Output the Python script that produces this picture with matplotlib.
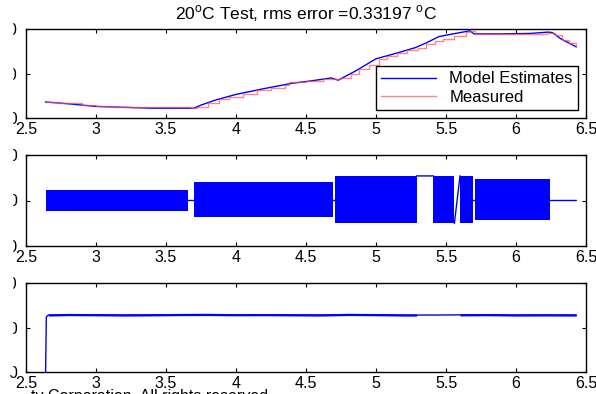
import matplotlib
matplotlib.use("Agg")
import matplotlib.pyplot as plt
import numpy as np
from matplotlib.patches import Rectangle

plt.rcParams['font.family'] = ['Liberation Sans', 'DejaVu Sans']
plt.rcParams['mathtext.fontset'] = 'custom'
plt.rcParams['mathtext.rm'] = 'Liberation Sans'

# top panel: model estimate vs measured temperature
t_model = [2.64, 2.80, 3.00, 3.20, 3.40, 3.60, 3.70, 3.75, 3.85, 4.00, 4.20, 4.40,
           4.55, 4.68, 4.73, 4.85, 5.00, 5.15, 5.28, 5.36, 5.45, 5.55, 5.62, 5.67,
           5.70, 5.90, 6.10, 6.23, 6.26, 6.32, 6.43]
v_model = [23.6, 23.2, 22.6, 22.4, 22.2, 22.2, 22.2, 22.9, 24.0, 25.3, 26.6, 27.8,
           28.4, 29.0, 28.5, 30.5, 33.3, 34.6, 35.8, 36.9, 38.3, 38.9, 39.3, 39.6,
           38.9, 38.9, 39.0, 39.3, 39.2, 37.8, 36.0]

t_meas = [2.64, 2.72, 2.90, 3.00, 3.12, 3.68, 3.72, 3.80, 3.88, 3.95, 4.05, 4.15,
          4.25, 4.35, 4.38, 4.50, 4.62, 4.70, 4.75, 4.82, 4.88, 4.95, 5.02, 5.08,
          5.15, 5.22, 5.30, 5.36, 5.42, 5.48, 5.56, 5.64, 5.68, 5.71, 6.05, 6.22,
          6.28, 6.33, 6.38, 6.43]
v_meas = [23.6, 23.3, 22.9, 22.6, 22.5, 22.2, 22.4, 23.4, 24.2, 24.8, 25.5, 26.2,
          26.7, 27.5, 28.0, 28.3, 28.8, 28.7, 29.0, 30.0, 31.0, 32.0, 33.2, 34.0,
          34.6, 35.2, 35.8, 36.6, 37.2, 37.8, 38.4, 39.4, 39.6, 38.8, 38.8, 39.1,
          38.6, 37.6, 36.8, 36.1]

# middle panel: switching bands (start, end, high, low)
band_start = [2.64, 3.70, 4.71, 5.41, 5.60, 5.71]
band_end = [3.66, 4.69, 5.29, 5.56, 5.69, 6.24]
band_hi = [12, 20, 27, 27, 27, 23.5]
band_lo = [-11, -18, -25, -25, -25, -21.5]
# connecting line between bands
t_link = [3.66, 3.70, np.nan, 4.69, 4.71, np.nan, 5.29, 5.41, np.nan,
          5.56, 5.60, np.nan, 5.69, 5.71, np.nan, 6.24, 6.43]
v_link = [0, 0, np.nan, 0, 0, np.nan, 27, 27, np.nan,
          -25, 27, np.nan, 0, 0, np.nan, 0, 0]

# bottom panel: level with noise
t_bot = [2.64, 2.645, 2.66, 2.80, 3.00, 3.20, 3.40, 3.60, 3.80, 4.00, 4.20, 4.40,
         4.60, 4.80, 5.00, 5.20, 5.29, 5.43, 5.60, 5.80, 6.00, 6.20, 6.43]
v_bot = [0, 62, 64, 64.5, 64.3, 64.0, 64.2, 64.5, 64.6, 64.3, 64.4, 64.2,
         64.0, 64.6, 64.4, 64.0, 64.0, 64.0, 64.2, 64.4, 64.0, 64.1, 64.0]
noise_start = [2.66, 5.43, 5.60]
noise_end = [5.29, 5.56, 6.43]
noise_hw = 1.2

xticks = [2.5, 3, 3.5, 4, 4.5, 5, 5.5, 6, 6.5]
xlabels = ['2.5', '3', '3.5', '4', '4.5', '5', '5.5', '6', '6.5']

fig = plt.figure(figsize=(5.96, 3.94), dpi=100)
L, W = 26 / 596, 560 / 596
ax1 = fig.add_axes([L, 1 - 118 / 394, W, 89 / 394])
ax2 = fig.add_axes([L, 1 - 246 / 394, W, 91 / 394])
ax3 = fig.add_axes([L, 1 - 372 / 394, W, 89 / 394])

ax1.plot(t_model, v_model, color='blue', lw=1.0, label='Model Estimates')
ax1.plot(t_meas, v_meas, color='#ff5555', lw=1.0, alpha=0.7,
         drawstyle='steps-post', label='Measured')
ax1.set_ylim(20, 40)
ax1.set_yticks([20, 30, 40])
ax1.set_title(r'20$^{\mathrm{o}}$C Test, rms error =0.33197 $^{\mathrm{o}}$C',
              fontsize=12.5, pad=7)
leg = ax1.legend(loc='lower right', fontsize=12, handlelength=3.3,
                 fancybox=False, framealpha=1, borderaxespad=0.5,
                 borderpad=0.3, labelspacing=0.2)
leg.get_frame().set_edgecolor('black')
leg.get_frame().set_linewidth(1.0)

for s, e, hi, lo in zip(band_start, band_end, band_hi, band_lo):
    ax2.fill_between([s, e], [lo, lo], [hi, hi], color='blue', lw=0)
ax2.plot(t_link, v_link, color='blue', lw=1.0)
ax2.set_ylim(-50, 50)
ax2.set_yticks([-50, 0, 50])

ax3.plot(t_bot, v_bot, color='blue', lw=1.0)
tb = np.array(t_bot)
vb = np.array(v_bot)
for s, e in zip(noise_start, noise_end):
    m = (tb >= s) & (tb <= e)
    ax3.fill_between(tb[m], vb[m] - noise_hw, vb[m] + noise_hw, color='blue', lw=0)
ax3.set_ylim(0, 100)
ax3.set_yticks([0, 50, 100])

for ax in (ax1, ax2, ax3):
    ax.set_xlim(2.5, 6.5)
    ax.set_xticks(xticks)
    ax.set_xticklabels(xlabels)
    ax.tick_params(direction='in', top=True, right=True, length=3,
                   labelsize=11.5, width=0.8)
    ax.tick_params(axis='x', pad=3)
    ax.tick_params(axis='y', pad=6)
    for sp in ax.spines.values():
        sp.set_linewidth(1.0)

# the source image is cropped on the left: only the edge of the y labels shows
fig.patches.append(Rectangle((0, 20 / 394), 12 / 596, 355 / 394,
                             transform=fig.transFigure, color='white', zorder=10))

fig.text(31 / 596, 1 - 389 / 394, 'ty Corporation. All rights reserved.',
         fontsize=11.5, va='top', ha='left')

fig.savefig('out.png', dpi=100)
